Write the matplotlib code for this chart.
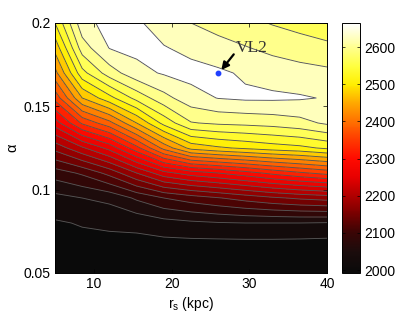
import numpy as np
import matplotlib
matplotlib.use("Agg")
import matplotlib.pyplot as plt
from matplotlib.colors import LinearSegmentedColormap, Normalize
import matplotlib.cm as cm

plt.rcParams["font.family"] = ["Liberation Sans", "DejaVu Sans"]
plt.rcParams["mathtext.fontset"] = "custom"
plt.rcParams["mathtext.rm"] = "Liberation Sans"
plt.rcParams["mathtext.it"] = "Liberation Sans"

# grid of the scan
rs_grid = [5, 8.5, 12, 15.5, 19, 22.5, 26, 29.5, 33, 36.5, 40]
alpha_grid = [0.05, 0.065, 0.08, 0.095, 0.11, 0.125, 0.14, 0.155, 0.17, 0.185, 0.2]

# values per alpha row, across rs_grid
z_a050 = [1995, 1992, 1990, 1988, 1986, 1985, 1984, 1983, 1982, 1981, 1980]
z_a065 = [2000, 2000, 2000, 1998, 1996, 1995, 1994, 1994, 1994, 1993, 1992]
z_a080 = [2007, 2012, 2015, 2018, 2028, 2034, 2038, 2040, 2040, 2040, 2038]
z_a095 = [2030, 2040, 2048, 2075, 2100, 2115, 2128, 2142, 2155, 2165, 2172]
z_a110 = [2085, 2105, 2140, 2190, 2240, 2265, 2280, 2298, 2318, 2335, 2350]
z_a125 = [2170, 2215, 2260, 2330, 2410, 2470, 2485, 2495, 2505, 2512, 2525]
z_a140 = [2265, 2345, 2390, 2460, 2530, 2578, 2585, 2588, 2592, 2600, 2615]
z_a155 = [2350, 2460, 2510, 2560, 2600, 2628, 2641, 2645, 2645, 2643, 2638]
z_a170 = [2420, 2540, 2595, 2630, 2643, 2650, 2645, 2636, 2628, 2622, 2617]
z_a185 = [2470, 2595, 2641, 2648, 2642, 2632, 2622, 2612, 2602, 2594, 2588]
z_a200 = [2520, 2630, 2650, 2645, 2625, 2610, 2598, 2588, 2578, 2570, 2560]

Z = np.array([z_a050, z_a065, z_a080, z_a095, z_a110, z_a125,
              z_a140, z_a155, z_a170, z_a185, z_a200])

vl2_rs = [26]
vl2_alpha = [0.17]

cb_ticks = [2000, 2100, 2200, 2300, 2400, 2500, 2600]

# hot-like map, darker at the low end
cmap = LinearSegmentedColormap.from_list("hotish", [
    (0.0, "#0a0a0a"), (0.086, "#1c0c0c"), (0.16, "#3a0505"),
    (0.235, "#780000"), (0.309, "#b00000"), (0.383, "#e80000"),
    (0.458, "#ff0a00"), (0.532, "#ff3a00"), (0.606, "#ff7000"),
    (0.68, "#ffa800"), (0.755, "#ffee00"), (0.829, "#ffff40"),
    (0.903, "#ffff90"), (1.0, "#ffffff")])
norm = Normalize(1992, 2665)

line_levels = np.arange(2010, 2641, 30)
fill_levels = np.concatenate([[1900], line_levels, [2700]])

fig = plt.figure(figsize=(4.15, 3.13), dpi=100)
ax = fig.add_axes([55 / 415, 40 / 313, 272 / 415, 250 / 313])

ax.contourf(rs_grid, alpha_grid, Z, levels=fill_levels, cmap=cmap, norm=norm)
ax.contour(rs_grid, alpha_grid, Z, levels=line_levels, colors="#555555", linewidths=0.65)

ax.plot(vl2_rs, vl2_alpha, "o", color="#2040ff", ms=3.2, mec="#2040ff")
ax.annotate("", xy=(26.4, 0.1718), xytext=(28.0, 0.1812),
            arrowprops=dict(arrowstyle="-|>", color="k", lw=1.6,
                            mutation_scale=11, shrinkA=0, shrinkB=0))
ax.text(28.2, 0.1826, "VL2", family="Liberation Serif", fontsize=12.5,
        color="#333333", va="baseline")

ax.set_xlim(5, 40)
ax.set_ylim(0.05, 0.2)
ax.set_xticks([10, 20, 30, 40])
ax.set_yticks([0.05, 0.1, 0.15, 0.2])
ax.set_yticklabels(["0.05", "0.1", "0.15", "0.2"])
ax.tick_params(direction="in", top=True, right=True, length=3, width=0.5,
               labelsize=10, pad=3)
for s in ax.spines.values():
    s.set_linewidth(0.7)
ax.set_xlabel(r"r$_\mathrm{s}$ (kpc)", fontsize=10, labelpad=3)
ax.set_ylabel("α", fontsize=10.5, labelpad=3)

cax = fig.add_axes([342 / 415, 40 / 313, 18 / 415, 250 / 313])
sm = cm.ScalarMappable(norm=norm, cmap=cmap)
cb = fig.colorbar(sm, cax=cax)
cb.set_ticks(cb_ticks)
cb.outline.set_linewidth(0.7)
cax.tick_params(direction="in", left=True, right=True, length=2.5, width=0.5,
                labelsize=10, pad=3)

fig.savefig("out.png", dpi=100)
